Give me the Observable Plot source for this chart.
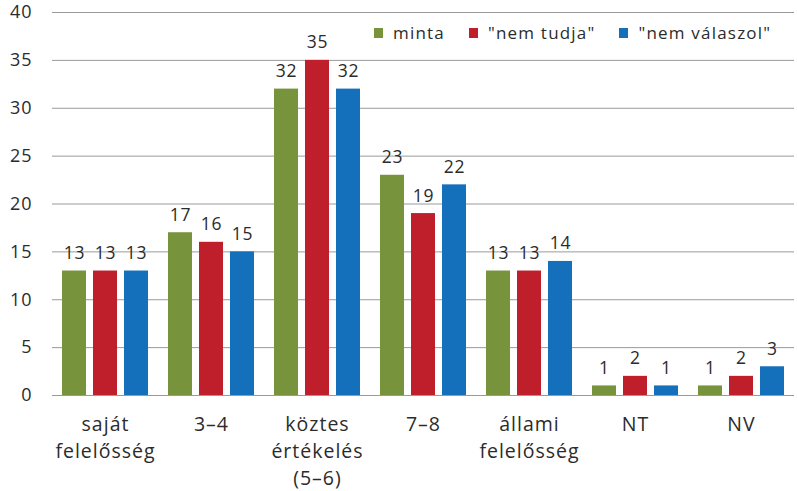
<!DOCTYPE html>
<html><head><meta charset="utf-8">
<script src="https://cdn.jsdelivr.net/npm/d3@7"></script>
<script src="https://cdn.jsdelivr.net/npm/@observablehq/plot@0.6"></script>
<style>
body{margin:0;background:#fff;font-family:"Open Sans",sans-serif;}
#wrap{position:relative;width:797px;height:491px;}
#legend{position:absolute;top:21px;left:374px;display:flex;align-items:center;font-size:17px;letter-spacing:1.2px;color:#2b2b2b;white-space:nowrap;}
#legend span.sw{display:inline-block;width:9px;height:10px;margin-right:10px;}
#legend span.item{display:inline-flex;align-items:center;margin-right:24px;}
g[aria-label="fx-axis tick label"] text{letter-spacing:1px;}
g[aria-label="y-axis tick label"] text{letter-spacing:1px;}
g[aria-label="text"] text{letter-spacing:0.8px;}
</style></head>
<body><div id="wrap"><div id="legend"></div></div>
<script>
const categories = ["saját\nfelelősség", "3–4", "köztes\nértékelés\n(5–6)", "7–8", "állami\nfelelősség", "NT", "NV"];
const seriesNames = ["minta", "\"nem tudja\"", "\"nem válaszol\""];
const colors = ["#77933C", "#BE1F2A", "#1470BB"];
const minta = [13, 17, 32, 23, 13, 1, 1];
const nemTudja = [13, 16, 35, 19, 13, 2, 2];
const nemValaszol = [13, 15, 32, 22, 14, 1, 3];
const yTicks = [0, 5, 10, 15, 20, 25, 30, 35, 40];

const seriesValues = [minta, nemTudja, nemValaszol];
const data = [];
categories.forEach((c, i) => seriesNames.forEach((s, j) => data.push({cat: c, series: s, value: seriesValues[j][i]})));

const chart = Plot.plot({
  width: 797, height: 491,
  marginLeft: 49, marginRight: 0, marginTop: 12, marginBottom: 96,
  style: {fontFamily: "Open Sans", color: "#2b2b2b", background: "#fff"},
  fx: {domain: categories, padding: 0, label: null},
  x: {domain: seriesNames, axis: null, paddingInner: 0.21, paddingOuter: 0.29},
  y: {domain: [0, 40], label: null},
  color: {domain: seriesNames, range: colors},
  marks: [
    Plot.gridY(yTicks, {stroke: "#9a9a9a", strokeOpacity: 1, strokeWidth: 1}),
    Plot.axisY(yTicks, {tickSize: 0, tickPadding: 20, fontSize: 18, label: null, fill: "#2b2b2b"}),
    Plot.axisFx({anchor: "bottom", tickSize: 0, tickPadding: 16, fontSize: 19.5, lineHeight: 1.4, label: null, fill: "#2b2b2b"}),
    Plot.barY(data, {fx: "cat", x: "series", y: "value", fill: "series"}),
    Plot.text(data, {fx: "cat", x: "series", y: "value", text: d => String(d.value), lineAnchor: "bottom", dy: -12, fontSize: 17.5, fill: "#2b2b2b"})
  ]
});
document.getElementById("wrap").prepend(chart);
const leg = document.getElementById("legend");
seriesNames.forEach((s, i) => {
  const it = document.createElement("span"); it.className = "item";
  const sw = document.createElement("span"); sw.className = "sw"; sw.style.background = colors[i];
  it.appendChild(sw); it.appendChild(document.createTextNode(s));
  leg.appendChild(it);
});
</script></body></html>
